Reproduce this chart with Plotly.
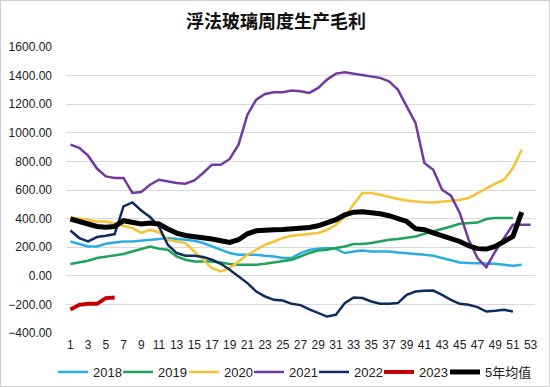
import plotly.graph_objects as go

weeks = list(range(1, 54))

s2018 = [240, 224, 205, 205, 224, 233, 240, 240, 245, 247, 257, 264, 257, 247, 245, 229, 205, 182, 159, 147,
         147, 147, 140, 135, 124, 124, 159, 180, 189, 194, 189, 159, 170, 177, 170, 170, 170, 163, 159, 154,
         147, 140, 124, 107, 93, 89, 89, 89, 84, 77, 70, 77]
s2019 = [82, 93, 105, 124, 135, 142, 152, 170, 189, 205, 189, 182, 135, 112, 100, 100, 100, 93, 82, 77,
         77, 77, 84, 93, 100, 112, 135, 160, 177, 182, 194, 205, 222, 222, 229, 240, 252, 257, 264, 275,
         294, 310, 327, 345, 364, 369, 372, 397, 404, 404, 404]
s2020 = [410, 400, 392, 380, 380, 365, 345, 334, 300, 322, 305, 252, 240, 229, 170, 112, 54, 30, 54, 100,
         147, 182, 217, 240, 264, 280, 285, 290, 299, 322, 357, 410, 500, 579, 579, 567, 551, 537, 527, 520,
         515, 513, 520, 525, 530, 544, 579, 614, 644, 672, 754, 882]
s2021 = [917, 895, 840, 750, 695, 684, 684, 579, 586, 637, 672, 660, 649, 644, 667, 719, 777, 777, 817, 917,
         1127, 1232, 1272, 1283, 1283, 1295, 1290, 1279, 1314, 1372, 1414, 1423, 1414, 1400, 1395, 1384, 1360,
         1302, 1185, 1069, 789, 742, 602, 560, 440, 252, 124, 61, 170, 264, 357, 357, 357]
s2022 = [317, 264, 240, 271, 280, 292, 485, 513, 457, 411, 345, 217, 159, 140, 140, 131, 112, 84, 42, -5,
         -51, -110, -145, -168, -173, -196, -205, -235, -261, -285, -273, -191, -152, -156, -180, -196, -196,
         -191, -133, -110, -105, -103, -133, -168, -196, -203, -219, -250, -245, -238, -250]
s2023 = [-236, -203, -196, -196, -156, -152]
avg5 = [397, 380, 357, 345, 340, 345, 385, 373, 362, 369, 362, 327, 299, 282, 275, 268, 257, 245, 233, 252,
        294, 315, 322, 322, 324, 327, 334, 338, 350, 369, 392, 427, 445, 448, 443, 434, 420, 404, 380, 330,
        322, 300, 280, 268, 240, 210, 190, 187, 205, 240, 275, 445]

names = ["2018", "2019", "2020", "2021", "2022", "2023", "5年均值"]
values = [s2018, s2019, s2020, s2021, s2022, s2023, avg5]
colors = ["#2aaee2", "#1fa35a", "#f4c232", "#7339a0", "#0f2c5e", "#c00000", "#000000"]
widths = [2.5, 2.5, 2.5, 2.5, 2.5, 4, 5]
legend_px = [53, 118, 184, 249, 314, 379, 445]

W, H = 550, 387
ml, mr, mt, mb = 66, 15, 47, 54
pw, ph = W - ml - mr, H - mt - mb
leg_y = (H - mt - 364) / ph
leg_font = dict(size=13, family="Liberation Sans, Noto Sans CJK SC", color="#222222")

fig = go.Figure()
legends = {}
for i, (name, vals, color, width) in enumerate(zip(names, values, colors, widths)):
    key = "legend" if i == 0 else f"legend{i + 1}"
    fig.add_trace(go.Scatter(x=weeks[:len(vals)], y=vals, mode="lines", name=name,
                             line=dict(color=color, width=width), legend=key))
    legends[key] = dict(orientation="h", x=(legend_px[i] - ml) / pw, xanchor="left",
                        y=leg_y, yanchor="top", font=leg_font, itemwidth=30,
                        bgcolor="rgba(0,0,0,0)")

fig.update_layout(
    width=W, height=H,
    margin=dict(l=ml, r=mr, t=mt, b=mb, autoexpand=False),
    paper_bgcolor="white", plot_bgcolor="white",
    font=dict(family="Liberation Sans, Arial, Noto Sans CJK SC", size=12, color="#222222"),
    title=dict(text="<b>浮法玻璃周度生产毛利</b>", x=(276 - ml) / pw, xanchor="center", xref="paper",
               y=1 - 22 / H, yanchor="middle", yref="container",
               font=dict(family="Noto Sans CJK SC", size=18, color="#111111")),
    showlegend=True,
    xaxis=dict(range=[0.5, 53.5], tickmode="array", tickvals=list(range(1, 54, 2)),
               showgrid=False, zeroline=False, showline=False, ticks="", ticklabelstandoff=3,
               tickfont=dict(size=12)),
    yaxis=dict(range=[-400, 1600], tickmode="array", tickvals=list(range(-400, 1601, 200)),
               tickformat=".2f", showgrid=True, gridcolor="#d9d9d9", gridwidth=1,
               zeroline=False, showline=False, ticks="", ticklabelstandoff=13,
               tickfont=dict(size=12)),
    shapes=[dict(type="rect", xref="paper", yref="paper",
                 x0=(-ml + 0.5) / pw, x1=1 + (mr - 0.5) / pw,
                 y0=(-mb + 0.5) / ph, y1=1 + (mt - 0.5) / ph,
                 line=dict(color="#d0d0d0", width=1))],
    **legends,
)

fig.write_html("out.html", config={"displayModeBar": False},
               post_script="document.body.style.margin='0';document.body.style.padding='0';")
